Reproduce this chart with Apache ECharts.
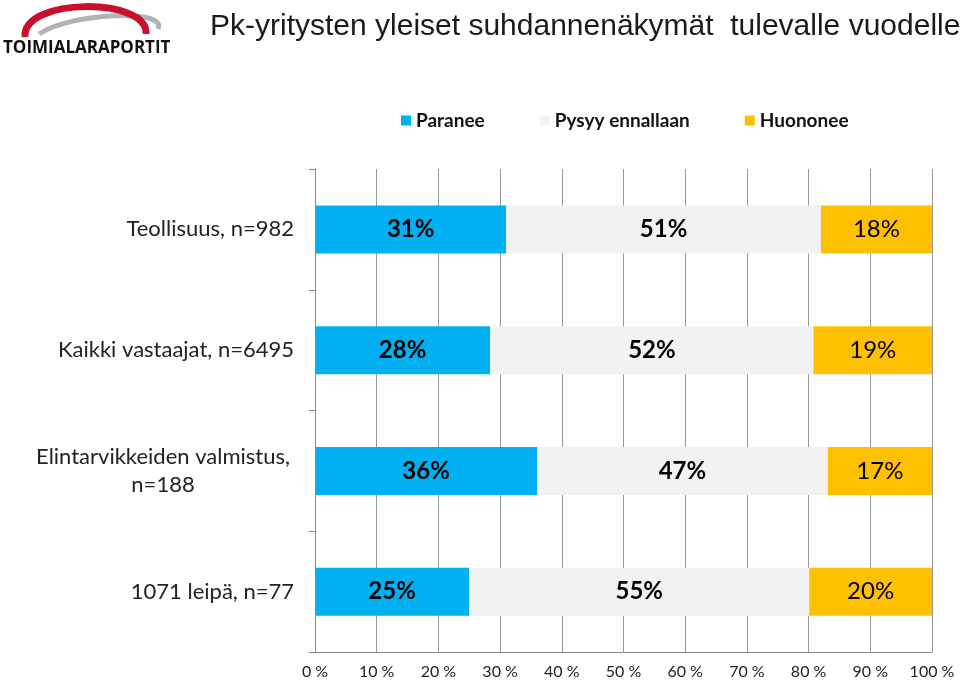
<!DOCTYPE html>
<html>
<head>
<meta charset="utf-8">
<script src="https://cdn.jsdelivr.net/npm/echarts@6/dist/echarts.min.js"></script>
<style>html,body{margin:0;padding:0;background:#fff;}#c{width:960px;height:680px;}</style>
</head>
<body>
<div id="c"></div>
<script>
const categories = ['Teollisuus, n=982', 'Kaikki vastaajat, n=6495', 'Elintarvikkeiden valmistus,\nn=188', '1071 leipä, n=77'];
const paranee = [31, 28.4, 36, 25];
const pysyy = [51, 52.4, 47.1, 55.1];
const huononee = [18, 19.2, 16.9, 19.9];
const xTicks = ['0 %','10 %','20 %','30 %','40 %','50 %','60 %','70 %','80 %','90 %','100 %'];

const FONT = 'Lato, "Open Sans", sans-serif';
const chart = echarts.init(document.getElementById('c'));
function lbl(bold){
  return {show:true, position:'inside', color:'#000', fontFamily:FONT, fontSize:24,
    fontWeight: bold ? 'bold' : 'normal', formatter: p => Math.round(p.value) + '%'};
}
chart.setOption({
  animation:false,
  title:{text:'Pk-yritysten yleiset suhdannenäkymät  tulevalle vuodelle', left:205, top:7,
    textStyle:{fontFamily:'"Liberation Sans", Arial, sans-serif', fontSize:30, fontWeight:'normal', color:'#1a1a1a'}},
  legend:{left:396, top:106, itemWidth:10, itemHeight:10, itemGap:55, icon:'rect',
    textStyle:{fontFamily:FONT, fontSize:19, fontWeight:'bold', color:'#111'},
    data:['Paranee','Pysyy ennallaan','Huononee']},
  grid:{left:315, right:28, top:169, bottom:26, containLabel:false},
  xAxis:{type:'value', min:0, max:100, interval:10,
    axisLine:{show:true, lineStyle:{color:'#888'}},
    axisTick:{show:false},
    splitLine:{show:true, lineStyle:{color:'#999'}},
    axisLabel:{color:'#222', fontFamily:FONT, fontSize:16, margin:12,
      formatter: v => xTicks[Math.round(v/10)]}},
  yAxis:{type:'category', inverse:true, data:categories,
    axisLine:{show:true, lineStyle:{color:'#888'}},
    axisTick:{show:true, length:6, lineStyle:{color:'#888'}},
    axisLabel:{color:'#222', fontFamily:FONT, fontSize:22, margin:21, lineHeight:28,
      formatter: v => v.indexOf('\n') >= 0 ? v.split('\n').map(s => '{m|' + s + '}').join('\n') : v,
      rich:{m:{align:'center', width:262, fontFamily:FONT, fontSize:22, color:'#222', lineHeight:28}}}},
  series:[
    {name:'Paranee', type:'bar', stack:'a', barWidth:48, data:paranee, itemStyle:{color:'#00B0F0'}, label:lbl(true)},
    {name:'Pysyy ennallaan', type:'bar', stack:'a', barWidth:48, data:pysyy, itemStyle:{color:'#F2F2F2'}, label:lbl(true)},
    {name:'Huononee', type:'bar', stack:'a', barWidth:48, data:huononee, itemStyle:{color:'#FFC000'}, label:lbl(false)}
  ],
  graphic:[
    {type:'bezierCurve', shape:{x1:39, y1:34, cpx1:70, cpy1:13, cpx2:168, cpy2:8, x2:158, y2:29}, style:{stroke:'#b3b3b3', lineWidth:5, fill:null}},
    {type:'bezierCurve', shape:{x1:25, y1:37, cpx1:22, cpy1:-3, cpx2:149, cpy2:-3, x2:146, y2:34}, style:{stroke:'#c8102e', lineWidth:7, fill:null}},
    {type:'text', left:3, top:40, style:{text:'TOIMIALARAPORTIT', fontFamily:'"Open Sans", sans-serif', fontWeight:'bold', fontSize:17, fill:'#111'}}
  ]
});
</script>
</body>
</html>
